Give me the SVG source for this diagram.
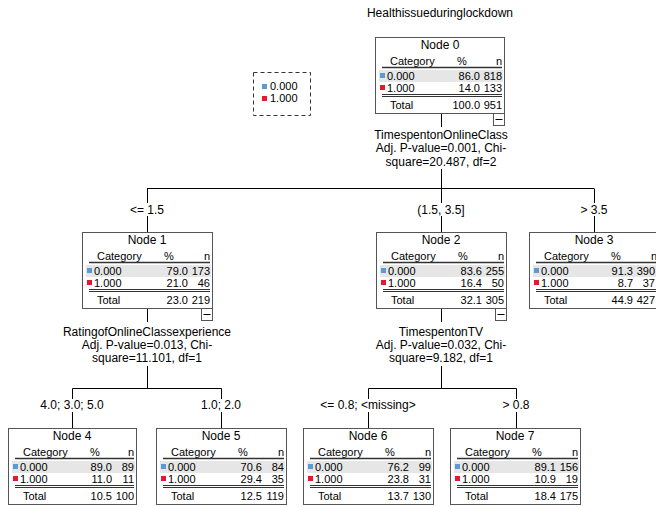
<svg xmlns="http://www.w3.org/2000/svg" width="656" height="507" viewBox="0 0 656 507">
<style>
text{font-family:"Liberation Sans",Arial,sans-serif;font-size:12px;fill:#000}
.nd text{font-size:11px}
.nd text.h{font-size:12px}
.c{text-anchor:middle}
.r{text-anchor:end}
.box{fill:#fff;stroke:#555;stroke-width:1}
.sh{fill:#e6e6e6}
.ul{stroke:#333;stroke-width:1.3}
.dl{stroke:#333;stroke-width:1}
.b{fill:#5b9bd5}
.rd{fill:#e31a2f}
.cn line{stroke:#000;stroke-width:1}
.mb{fill:#fff;stroke:#555;stroke-width:1}
.mg{stroke:#000;stroke-width:1}
</style>
<text class="c" x="440" y="17" font-size="12.5">Healthissueduringlockdown</text>
<g id="legend" class="nd">
<rect x="253.5" y="72.5" width="57" height="43" fill="#fff" stroke="#333" stroke-dasharray="4,3"/>
<rect class="b" x="262" y="84" width="5" height="5"/>
<text x="270" y="90">0.000</text>
<rect class="rd" x="262" y="96" width="5" height="5"/>
<text x="270" y="102">1.000</text>
</g>
<g id="connectors" class="cn">
<line x1="441.5" y1="113" x2="441.5" y2="127"/>
<line x1="441.5" y1="169" x2="441.5" y2="188.5"/>
<line x1="147" y1="188.5" x2="594" y2="188.5"/>
<line x1="147.5" y1="188.5" x2="147.5" y2="203"/>
<line x1="147.5" y1="216" x2="147.5" y2="232"/>
<line x1="441.5" y1="188.5" x2="441.5" y2="203"/>
<line x1="441.5" y1="216" x2="441.5" y2="232"/>
<line x1="594.5" y1="188.5" x2="594.5" y2="203"/>
<line x1="594.5" y1="216" x2="594.5" y2="232"/>
<line x1="147.5" y1="308" x2="147.5" y2="322"/>
<line x1="147.5" y1="366" x2="147.5" y2="388.5"/>
<line x1="72.5" y1="388.5" x2="221.5" y2="388.5"/>
<line x1="72.5" y1="388.5" x2="72.5" y2="399"/>
<line x1="72.5" y1="412" x2="72.5" y2="428"/>
<line x1="221.5" y1="388.5" x2="221.5" y2="399"/>
<line x1="221.5" y1="412" x2="221.5" y2="428"/>
<line x1="441.5" y1="308" x2="441.5" y2="322"/>
<line x1="441.5" y1="366" x2="441.5" y2="388.5"/>
<line x1="368.5" y1="388.5" x2="516.5" y2="388.5"/>
<line x1="368.5" y1="388.5" x2="368.5" y2="399"/>
<line x1="368.5" y1="412" x2="368.5" y2="428"/>
<line x1="516.5" y1="388.5" x2="516.5" y2="399"/>
<line x1="516.5" y1="412" x2="516.5" y2="428"/>
<text class="c" x="441" y="139">TimespentonOnlineClass</text>
<text class="c" x="441" y="152">Adj. P-value=0.001, Chi-</text>
<text class="c" x="441" y="166">square=20.487, df=2</text>
<text class="c" x="147" y="214">&lt;= 1.5</text>
<text class="c" x="441" y="214">(1.5, 3.5]</text>
<text class="c" x="594" y="214">&gt; 3.5</text>
<text class="c" x="147" y="336">RatingofOnlineClassexperience</text>
<text class="c" x="147" y="349">Adj. P-value=0.013, Chi-</text>
<text class="c" x="147" y="362">square=11.101, df=1</text>
<text class="c" x="441" y="336">TimespentonTV</text>
<text class="c" x="441" y="349">Adj. P-value=0.032, Chi-</text>
<text class="c" x="441" y="362">square=9.182, df=1</text>
<text class="c" x="72" y="409">4.0; 3.0; 5.0</text>
<text class="c" x="221" y="409">1.0; 2.0</text>
<text class="c" x="368" y="409">&lt;= 0.8; &lt;missing&gt;</text>
<text class="c" x="516" y="409">&gt; 0.8</text>
</g>
<g id="node0" class="nd" transform="translate(375,37)">
<rect class="box" x="0.5" y="0.5" width="129" height="76"/>
<text class="c h" x="65" y="12">Node 0</text>
<text x="15" y="28">Category</text><text x="82" y="28">%</text><text class="r" x="127" y="28">n</text>
<line class="ul" x1="7" y1="30.5" x2="127" y2="30.5"/>
<rect class="sh" x="4" y="33" width="124" height="12"/>
<rect class="b" x="5" y="36" width="5" height="5"/>
<text x="12" y="43">0.000</text><text class="r" x="105" y="43">86.0</text><text class="r" x="127" y="43">818</text>
<rect class="rd" x="5" y="48" width="5" height="5"/>
<text x="12" y="55">1.000</text><text class="r" x="105" y="55">14.0</text><text class="r" x="127" y="55">133</text>
<line class="dl" x1="7" y1="57.5" x2="127" y2="57.5"/>
<line class="dl" x1="7" y1="59.5" x2="127" y2="59.5"/>
<text x="15" y="72">Total</text><text class="r" x="105" y="72">100.0</text><text class="r" x="127" y="72">951</text>
<rect class="mb" x="118.5" y="76.5" width="11" height="12"/>
<line class="mg" x1="120.5" y1="82.5" x2="127.5" y2="82.5"/>
</g>
<g id="node1" class="nd" transform="translate(82,232)">
<rect class="box" x="0.5" y="0.5" width="130" height="76"/>
<text class="c h" x="65" y="12">Node 1</text>
<text x="15" y="28">Category</text><text x="82" y="28">%</text><text class="r" x="128" y="28">n</text>
<line class="ul" x1="7" y1="30.5" x2="128" y2="30.5"/>
<rect class="sh" x="4" y="33" width="125" height="12"/>
<rect class="b" x="5" y="36" width="5" height="5"/>
<text x="12" y="43">0.000</text><text class="r" x="106" y="43">79.0</text><text class="r" x="128" y="43">173</text>
<rect class="rd" x="5" y="48" width="5" height="5"/>
<text x="12" y="55">1.000</text><text class="r" x="106" y="55">21.0</text><text class="r" x="128" y="55">46</text>
<line class="dl" x1="7" y1="57.5" x2="128" y2="57.5"/>
<line class="dl" x1="7" y1="59.5" x2="128" y2="59.5"/>
<text x="15" y="72">Total</text><text class="r" x="106" y="72">23.0</text><text class="r" x="128" y="72">219</text>
<rect class="mb" x="119.5" y="76.5" width="11" height="12"/>
<line class="mg" x1="121.5" y1="82.5" x2="128.5" y2="82.5"/>
</g>
<g id="node2" class="nd" transform="translate(376,232)">
<rect class="box" x="0.5" y="0.5" width="130" height="76"/>
<text class="c h" x="65" y="12">Node 2</text>
<text x="15" y="28">Category</text><text x="82" y="28">%</text><text class="r" x="128" y="28">n</text>
<line class="ul" x1="7" y1="30.5" x2="128" y2="30.5"/>
<rect class="sh" x="4" y="33" width="125" height="12"/>
<rect class="b" x="5" y="36" width="5" height="5"/>
<text x="12" y="43">0.000</text><text class="r" x="106" y="43">83.6</text><text class="r" x="128" y="43">255</text>
<rect class="rd" x="5" y="48" width="5" height="5"/>
<text x="12" y="55">1.000</text><text class="r" x="106" y="55">16.4</text><text class="r" x="128" y="55">50</text>
<line class="dl" x1="7" y1="57.5" x2="128" y2="57.5"/>
<line class="dl" x1="7" y1="59.5" x2="128" y2="59.5"/>
<text x="15" y="72">Total</text><text class="r" x="106" y="72">32.1</text><text class="r" x="128" y="72">305</text>
<rect class="mb" x="119.5" y="76.5" width="11" height="12"/>
<line class="mg" x1="121.5" y1="82.5" x2="128.5" y2="82.5"/>
</g>
<g id="node3" class="nd" transform="translate(529,232)">
<rect class="box" x="0.5" y="0.5" width="130" height="76"/>
<text class="c h" x="65" y="12">Node 3</text>
<text x="15" y="28">Category</text><text x="82" y="28">%</text><text class="r" x="128" y="28">n</text>
<line class="ul" x1="7" y1="30.5" x2="128" y2="30.5"/>
<rect class="sh" x="4" y="33" width="125" height="12"/>
<rect class="b" x="5" y="36" width="5" height="5"/>
<text x="12" y="43">0.000</text><text class="r" x="104" y="43">91.3</text><text class="r" x="126" y="43">390</text>
<rect class="rd" x="5" y="48" width="5" height="5"/>
<text x="12" y="55">1.000</text><text class="r" x="104" y="55">8.7</text><text class="r" x="126" y="55">37</text>
<line class="dl" x1="7" y1="57.5" x2="128" y2="57.5"/>
<line class="dl" x1="7" y1="59.5" x2="128" y2="59.5"/>
<text x="15" y="72">Total</text><text class="r" x="104" y="72">44.9</text><text class="r" x="126" y="72">427</text>
</g>
<g id="node4" class="nd" transform="translate(8,428)">
<rect class="box" x="0.5" y="0.5" width="128" height="76"/>
<text class="c h" x="64" y="12">Node 4</text>
<text x="15" y="28">Category</text><text x="82" y="28">%</text><text class="r" x="126" y="28">n</text>
<line class="ul" x1="7" y1="30.5" x2="126" y2="30.5"/>
<rect class="sh" x="4" y="33" width="123" height="12"/>
<rect class="b" x="5" y="36" width="5" height="5"/>
<text x="12" y="43">0.000</text><text class="r" x="104" y="43">89.0</text><text class="r" x="126" y="43">89</text>
<rect class="rd" x="5" y="48" width="5" height="5"/>
<text x="12" y="55">1.000</text><text class="r" x="104" y="55">11.0</text><text class="r" x="126" y="55">11</text>
<line class="dl" x1="7" y1="57.5" x2="126" y2="57.5"/>
<line class="dl" x1="7" y1="59.5" x2="126" y2="59.5"/>
<text x="15" y="72">Total</text><text class="r" x="104" y="72">10.5</text><text class="r" x="126" y="72">100</text>
</g>
<g id="node5" class="nd" transform="translate(156,428)">
<rect class="box" x="0.5" y="0.5" width="130" height="76"/>
<text class="c h" x="65" y="12">Node 5</text>
<text x="15" y="28">Category</text><text x="82" y="28">%</text><text class="r" x="128" y="28">n</text>
<line class="ul" x1="7" y1="30.5" x2="128" y2="30.5"/>
<rect class="sh" x="4" y="33" width="125" height="12"/>
<rect class="b" x="5" y="36" width="5" height="5"/>
<text x="12" y="43">0.000</text><text class="r" x="106" y="43">70.6</text><text class="r" x="128" y="43">84</text>
<rect class="rd" x="5" y="48" width="5" height="5"/>
<text x="12" y="55">1.000</text><text class="r" x="106" y="55">29.4</text><text class="r" x="128" y="55">35</text>
<line class="dl" x1="7" y1="57.5" x2="128" y2="57.5"/>
<line class="dl" x1="7" y1="59.5" x2="128" y2="59.5"/>
<text x="15" y="72">Total</text><text class="r" x="106" y="72">12.5</text><text class="r" x="128" y="72">119</text>
</g>
<g id="node6" class="nd" transform="translate(303,428)">
<rect class="box" x="0.5" y="0.5" width="130" height="76"/>
<text class="c h" x="65" y="12">Node 6</text>
<text x="15" y="28">Category</text><text x="82" y="28">%</text><text class="r" x="128" y="28">n</text>
<line class="ul" x1="7" y1="30.5" x2="128" y2="30.5"/>
<rect class="sh" x="4" y="33" width="125" height="12"/>
<rect class="b" x="5" y="36" width="5" height="5"/>
<text x="12" y="43">0.000</text><text class="r" x="106" y="43">76.2</text><text class="r" x="128" y="43">99</text>
<rect class="rd" x="5" y="48" width="5" height="5"/>
<text x="12" y="55">1.000</text><text class="r" x="106" y="55">23.8</text><text class="r" x="128" y="55">31</text>
<line class="dl" x1="7" y1="57.5" x2="128" y2="57.5"/>
<line class="dl" x1="7" y1="59.5" x2="128" y2="59.5"/>
<text x="15" y="72">Total</text><text class="r" x="106" y="72">13.7</text><text class="r" x="128" y="72">130</text>
</g>
<g id="node7" class="nd" transform="translate(450,428)">
<rect class="box" x="0.5" y="0.5" width="130" height="76"/>
<text class="c h" x="65" y="12">Node 7</text>
<text x="15" y="28">Category</text><text x="82" y="28">%</text><text class="r" x="128" y="28">n</text>
<line class="ul" x1="7" y1="30.5" x2="128" y2="30.5"/>
<rect class="sh" x="4" y="33" width="125" height="12"/>
<rect class="b" x="5" y="36" width="5" height="5"/>
<text x="12" y="43">0.000</text><text class="r" x="106" y="43">89.1</text><text class="r" x="128" y="43">156</text>
<rect class="rd" x="5" y="48" width="5" height="5"/>
<text x="12" y="55">1.000</text><text class="r" x="106" y="55">10.9</text><text class="r" x="128" y="55">19</text>
<line class="dl" x1="7" y1="57.5" x2="128" y2="57.5"/>
<line class="dl" x1="7" y1="59.5" x2="128" y2="59.5"/>
<text x="15" y="72">Total</text><text class="r" x="106" y="72">18.4</text><text class="r" x="128" y="72">175</text>
</g>
</svg>
